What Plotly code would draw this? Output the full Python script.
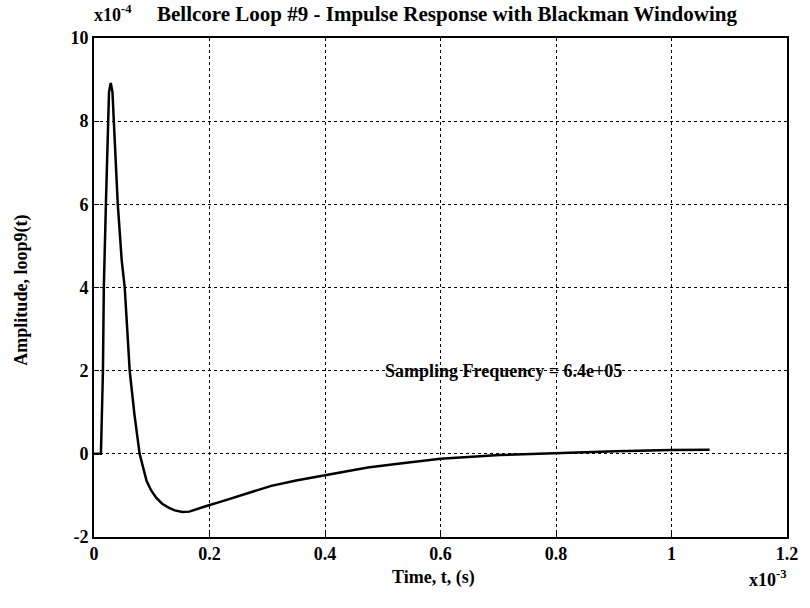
import plotly.graph_objects as go

# time in units of 1e-3 s, amplitude in units of 1e-4
t_ms = [0.0, 0.012, 0.0155, 0.017, 0.0206, 0.024, 0.026, 0.029, 0.032, 0.0343, 0.0412,
        0.048, 0.0532, 0.0618, 0.07, 0.079, 0.085, 0.091, 0.099, 0.108, 0.118, 0.130,
        0.140, 0.153, 0.165, 0.18, 0.196, 0.22, 0.251, 0.307, 0.35, 0.4, 0.474, 0.53,
        0.6, 0.702, 0.8, 0.903, 1.0, 1.066]
amp = [0.0, 0.0, 2.0, 4.0, 6.0, 8.0, 8.7, 8.92, 8.7, 8.0, 6.0,
       4.65, 4.0, 2.0, 0.95, 0.0, -0.35, -0.65, -0.88, -1.06, -1.20, -1.30,
       -1.36, -1.40, -1.39, -1.33, -1.25, -1.15, -1.01, -0.77, -0.64, -0.51, -0.33, -0.23,
       -0.12, -0.03, 0.02, 0.06, 0.09, 0.10]

x_ticks = [0, 0.2, 0.4, 0.6, 0.8, 1.0, 1.2]
x_tick_labels = ["0", "0.2", "0.4", "0.6", "0.8", "1", "1.2"]
y_ticks = [-2, 0, 2, 4, 6, 8, 10]
y_tick_labels = ["-2", "0", "2", "4", "6", "8", "10"]

FONT = "Liberation Serif"
W, H = 810, 608
# plot area in page pixels
L, R, T, B = 94, 793, 38, 537


def px(xp):
    return (xp - L) / (R - L)


def py(yp):
    return (B - yp) / (B - T)


fig = go.Figure()
fig.add_trace(go.Scatter(x=t_ms, y=amp, mode="lines",
                         line=dict(color="black", width=2.5), showlegend=False))

axis_common = dict(showline=True, linecolor="black", linewidth=1.6, mirror=True,
                   showgrid=True, gridcolor="black", gridwidth=1, griddash="dot",
                   zeroline=False, ticks="inside", ticklen=5, tickcolor="black",
                   tickfont=dict(family=FONT, size=18, color="black", weight="bold"))

fig.update_xaxes(range=[0, 1.2], tickvals=x_ticks, ticktext=x_tick_labels, **axis_common)
fig.update_yaxes(range=[-2, 10], tickvals=y_ticks, ticktext=y_tick_labels, **axis_common)

fig.add_annotation(x=0.5, y=2.0, xref="x", yref="y", xanchor="left", yanchor="middle",
                   text="Sampling Frequency = 6.4e+05", showarrow=False,
                   font=dict(family=FONT, size=18, color="black", weight="bold"))

bold = dict(family=FONT, color="black", weight="bold")
fig.add_annotation(x=px(450), y=py(14), xref="paper", yref="paper",
                   xanchor="center", yanchor="middle",
                   text="Bellcore Loop #9 - Impulse Response with Blackman Windowing",
                   showarrow=False, font=dict(size=21, **bold))
fig.add_annotation(x=px(113), y=py(14), xref="paper", yref="paper",
                   xanchor="center", yanchor="middle", text="x10<sup>-4</sup>",
                   showarrow=False, font=dict(size=18, **bold))
fig.add_annotation(x=px(436), y=py(577), xref="paper", yref="paper",
                   xanchor="center", yanchor="middle", text="Time, t, (s)",
                   showarrow=False, font=dict(size=18, **bold))
fig.add_annotation(x=px(774), y=py(578), xref="paper", yref="paper",
                   xanchor="center", yanchor="middle", text="x10<sup>-3</sup>",
                   showarrow=False, font=dict(size=18, **bold))
fig.add_annotation(x=px(20), y=py(290), xref="paper", yref="paper",
                   xanchor="center", yanchor="middle", text="Amplitude, loop9(t)",
                   textangle=-90, showarrow=False, font=dict(size=18, **bold))

fig.update_layout(width=W, height=H, plot_bgcolor="white", paper_bgcolor="white",
                  margin=dict(l=L, r=W - R, t=T, b=H - B))

fig.write_html("out.html", config={"displayModeBar": False},
               post_script="document.body.style.margin='0';"
                           "document.body.style.overflow='hidden';")
